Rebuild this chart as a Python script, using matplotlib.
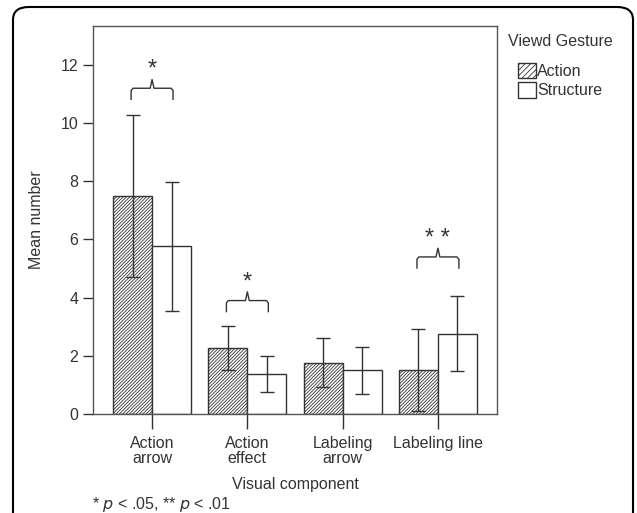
import numpy as np
import matplotlib
matplotlib.use("Agg")
import matplotlib.pyplot as plt
from matplotlib.patches import FancyBboxPatch, Patch

plt.rcParams['font.family'] = ['Liberation Sans', 'DejaVu Sans']
plt.rcParams['hatch.linewidth'] = 0.6
plt.rcParams['hatch.color'] = '#333333'

categories = ['Action\narrow', 'Action\neffect', 'Labeling\narrow', 'Labeling line']
action_mean = [7.50, 2.27, 1.74, 1.51]
action_lo = [4.70, 1.51, 0.92, 0.10]
action_hi = [10.27, 3.03, 2.60, 2.92]
structure_mean = [5.78, 1.36, 1.50, 2.76]
structure_lo = [3.55, 0.75, 0.68, 1.47]
structure_hi = [7.97, 1.98, 2.30, 4.06]
sig_groups = [0, 1, 3]
sig_labels = ['*', '*', '* *']
sig_y = [11.2, 3.9, 5.4]

tc = '#333333'
hatch = '/' * 10
fig = plt.figure(figsize=(6.37, 5.13), dpi=100)
ax = fig.add_axes([93/637, 1 - 414/513, (497-93)/637, (414-26)/513])

x = np.arange(len(categories))
w = 0.41
am = np.array(action_mean); sm = np.array(structure_mean)
ax.bar(x - w/2, am, w, facecolor='white', edgecolor=tc, hatch=hatch, linewidth=1.0)
ax.bar(x + w/2, sm, w, facecolor='white', edgecolor=tc, linewidth=1.0)
ax.errorbar(x - w/2, am, yerr=[am - np.array(action_lo), np.array(action_hi) - am],
            fmt='none', ecolor=tc, elinewidth=1.0, capsize=5, capthick=1.0)
ax.errorbar(x + w/2, sm, yerr=[sm - np.array(structure_lo), np.array(structure_hi) - sm],
            fmt='none', ecolor=tc, elinewidth=1.0, capsize=5, capthick=1.0)

# significance brackets
for g, lab, yb in zip(sig_groups, sig_labels, sig_y):
    x0, x1 = g - 0.22, g + 0.22
    d = 0.38
    ax.plot([x0, x0, x0 + 0.02, g - 0.02, g, g + 0.02, x1 - 0.02, x1, x1],
            [yb - d, yb - 0.08, yb, yb, yb + 0.3, yb, yb, yb - 0.08, yb - d],
            color=tc, lw=1.0)
    ax.text(g, yb + 0.25, lab, ha='center', va='bottom', fontsize=17, color=tc)

ax.set_xlim(-0.62, 3.62)
ax.set_ylim(0, 13.34)
ax.set_yticks([0, 2, 4, 6, 8, 10, 12])
ax.set_xticks(x)
ax.set_xticklabels(categories, fontsize=11.5, color=tc, linespacing=1.0)
ax.tick_params(axis='y', labelsize=11.5, labelcolor=tc, length=7, color=tc, width=1.0)
ax.tick_params(axis='x', length=11, color=tc, width=1.0, pad=5)
for s in ax.spines.values():
    s.set_color('#555555')
    s.set_linewidth(1.0)
ax.set_ylabel('Mean number', fontsize=11.5, color=tc, labelpad=12)
ax.set_xlabel('Visual component', fontsize=11.5, color=tc, labelpad=8)

fig.text(508/637, 1 - 42/513, 'Viewd Gesture', fontsize=11.5, color=tc,
         ha='left', va='center')
handles = [Patch(facecolor='white', edgecolor=tc, hatch='/' * 6),
           Patch(facecolor='white', edgecolor=tc)]
leg = fig.legend(handles, ['Action', 'Structure'],
                 loc='upper left', bbox_to_anchor=(510/637, 1 - 55/513), frameon=False,
                 fontsize=11.5, handlelength=1.1, handleheight=1.1,
                 handletextpad=0.1, labelspacing=0.2, borderpad=0.0)
for t in leg.get_texts():
    t.set_color(tc)

fig.text(92/637, 1 - 505/513, '* $p$ < .05, ** $p$ < .01', fontsize=11.5, color=tc,
         va='center', ha='left')

frame = FancyBboxPatch((13/637, -0.1), (633-13)/637, 1 - 7/513 + 0.1,
                       boxstyle='round,pad=0,rounding_size=0.025',
                       transform=fig.transFigure, facecolor='none',
                       edgecolor='black', linewidth=1.5, clip_on=False)
fig.patches.append(frame)

fig.savefig('out.png', dpi=100)
